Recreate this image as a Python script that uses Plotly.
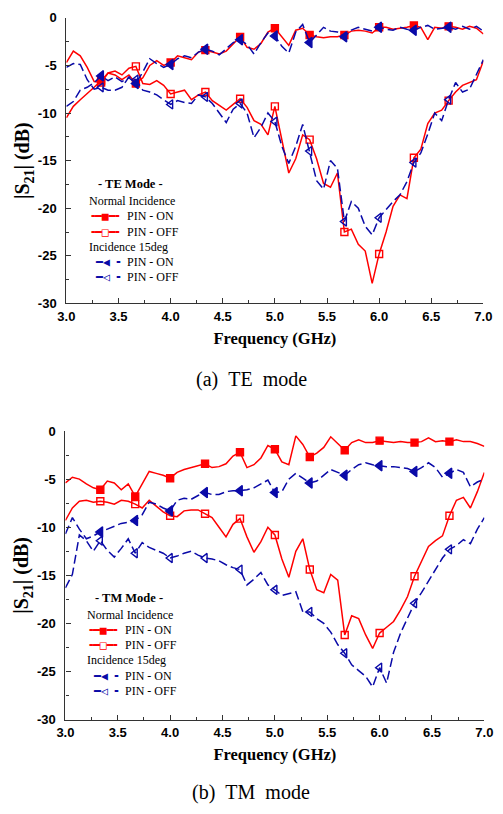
import plotly.graph_objects as go

# Frequency grid (GHz), 1/15 GHz steps
FREQ = [round(3 + i / 15, 4) for i in range(61)]

# ---- (a) TE mode ----
TE_NORMAL_ON = [-10.5, -9.3, -8.6, -8.0, -7.3, -6.6, -5.8, -6.0, -6.5, -6.0,
                -6.9, -6.3, -5.0, -4.5, -5.0, -4.7, -4.0, -4.2, -4.4, -3.6,
                -3.4, -3.6, -3.8, -3.5, -2.8, -2.0, -3.1, -3.3, -2.7, -1.5,
                -1.1, -2.0, -2.9, -1.3, -1.1, -1.8, -2.0, -2.1, -2.0, -2.0,
                -1.8, -1.4, -1.3, -1.4, -1.6, -1.0, -1.0, -1.2, -1.1, -1.0,
                -0.8, -1.0, -2.3, -1.0, -1.1, -0.9, -1.0, -1.2, -0.9, -1.1,
                -1.7]
TE_NORMAL_OFF = [-4.7, -3.5, -4.0, -5.2, -6.7, -6.8, -5.8, -5.6, -6.0, -5.3,
                 -5.1, -6.9, -7.0, -6.6, -7.1, -8.0, -7.8, -7.6, -8.6, -8.1,
                 -7.8, -8.7, -9.2, -9.7, -9.1, -8.5, -9.4, -10.8, -11.2, -12.3,
                 -9.3, -13.0, -16.3, -14.8, -12.3, -12.8, -14.8, -17.4, -17.8, -16.3,
                 -22.5, -22.2, -23.8, -24.5, -27.9, -24.8, -22.5, -19.8, -18.6, -19.0,
                 -14.7, -13.8, -11.1, -10.0, -9.7, -8.7, -7.8, -7.1, -6.8, -6.5,
                 -4.5]
TE_OBLIQUE_ON = [-9.3, -8.8, -7.6, -7.3, -6.8, -6.1, -6.6, -6.2, -6.7, -6.3,
                 -6.9, -5.7, -4.3, -4.8, -5.2, -4.9, -4.3, -4.0, -4.2, -3.6,
                 -3.3, -3.5, -3.9, -3.3, -2.6, -2.3, -2.8, -3.8, -2.6, -1.6,
                 -1.9, -3.0, -3.7, -1.5, -0.7, -2.6, -1.8, -1.0, -1.4, -1.5,
                 -2.0, -1.3, -1.0, -1.2, -1.4, -1.0, -1.2, -1.3, -1.0, -1.2,
                 -1.3, -1.0, -0.8, -1.2, -1.1, -1.0, -1.2, -0.9, -1.2, -0.9,
                 -1.4]
TE_OBLIQUE_OFF = [-5.2, -4.8, -4.9, -6.5, -7.5, -7.3, -7.6, -7.6, -7.3, -6.2,
                  -6.5, -7.6, -7.8, -8.1, -8.6, -9.1, -8.7, -8.9, -9.0, -8.1,
                  -8.3, -9.0, -10.0, -11.0, -9.6, -9.0, -10.0, -12.6, -11.5, -10.0,
                  -10.9, -13.5, -15.3, -13.5, -11.2, -14.0, -17.1, -18.0, -15.0, -15.8,
                  -21.4, -19.3, -20.0, -21.9, -22.8, -21.0, -20.1, -19.3, -18.6, -17.2,
                  -15.2, -14.2, -12.2, -10.0, -10.8, -8.6, -6.8, -7.8, -7.5, -6.0,
                  -4.4]

# ---- (b) TM mode ----
TM_NORMAL_ON = [-5.4, -4.8, -5.0, -5.5, -5.9, -6.1, -5.2, -5.4, -6.1, -5.5,
                -6.8, -5.5, -4.2, -4.4, -4.6, -4.9, -4.3, -4.0, -3.8, -3.6,
                -3.4, -3.8, -3.7, -3.4, -2.6, -2.2, -3.8, -3.5, -2.8, -1.5,
                -1.9, -3.2, -3.5, -0.5, -1.4, -2.7, -2.3, -1.7, -0.6, -1.3,
                -2.0, -1.2, -0.9, -1.2, -1.2, -1.0, -1.1, -1.2, -1.1, -1.2,
                -1.2, -1.1, -0.7, -1.1, -1.0, -1.1, -0.9, -1.1, -1.1, -1.3,
                -1.6]
TM_NORMAL_OFF = [-9.3, -8.0, -7.3, -7.2, -7.4, -7.3, -7.4, -7.6, -7.2, -7.3,
                 -7.6, -8.0, -7.2, -7.8, -8.4, -8.8, -8.9, -8.3, -8.2, -8.2,
                 -8.6, -9.0, -10.0, -11.0, -9.7, -9.1, -11.0, -12.6, -11.5, -10.0,
                 -10.8, -13.3, -15.2, -12.5, -11.2, -14.4, -16.5, -16.8, -14.9, -15.5,
                 -21.2, -19.2, -19.5, -21.2, -22.6, -21.0, -20.4, -19.8, -18.6, -17.2,
                 -15.1, -13.5, -12.0, -11.4, -10.9, -8.8, -7.2, -6.9, -8.0, -6.3,
                 -4.3]
TM_OBLIQUE_ON = [-10.7, -9.0, -10.2, -11.2, -10.9, -10.5, -10.2, -9.9, -9.6, -9.5,
                 -9.3, -8.7, -7.4, -7.6, -8.0, -8.3, -7.2, -7.0, -7.1, -6.7,
                 -6.4, -6.6, -6.6, -6.3, -6.2, -6.2, -6.1, -5.9, -5.5, -5.1,
                 -6.4, -6.3, -5.0, -4.4, -4.9, -5.4, -5.2, -4.6, -4.0, -4.3,
                 -4.6, -4.0, -3.5, -3.3, -3.5, -3.6, -3.7, -3.7, -3.8, -3.9,
                 -4.2, -3.8, -3.3, -3.8, -4.8, -4.4, -4.0, -4.3, -5.8, -5.3,
                 -5.0]
TM_OBLIQUE_OFF = [-16.3, -14.9, -10.8, -11.4, -12.5, -11.4, -12.4, -13.1, -12.2, -11.2,
                  -12.7, -11.6, -12.1, -12.4, -12.7, -13.2, -13.0, -12.7, -12.5, -12.9,
                  -13.2, -13.3, -13.5, -13.9, -14.2, -14.4, -16.0, -15.4, -14.7, -16.0,
                  -16.5, -17.1, -16.9, -16.7, -18.8, -18.8, -19.5, -20.0, -20.9, -22.2,
                  -23.1, -24.3, -24.9, -25.5, -26.6, -24.6, -26.2, -23.0, -21.0, -19.5,
                  -17.9, -16.8, -15.6, -14.3, -13.2, -12.3, -11.9, -11.3, -11.7, -10.2,
                  -9.0]

Y_TICKS = [-30, -25, -20, -15, -10, -5, 0]
Y_TICKTEXT = ["-30", "-25", "-20", "-15", "-10", "-5", "0"]
MARK_EVERY = 5

RED = "#FF0000"
BLUE = "#0A0AA8"
SERIF = "Liberation Serif"
SANS = "Liberation Sans"
MONO = "DejaVu Sans Mono"
DASH = "9px,4px"

fig = go.Figure()


def add_series(xa, ya, y, color, dash, symbol, msize):
    fig.add_trace(go.Scatter(
        x=FREQ, y=y, mode="lines", xaxis=xa, yaxis=ya,
        line=dict(color=color, width=1.5, dash=dash),
        showlegend=False, hoverinfo="skip"))
    idx = list(range(MARK_EVERY, len(FREQ) - 1, MARK_EVERY))
    fig.add_trace(go.Scatter(
        x=[FREQ[i] for i in idx], y=[y[i] for i in idx], mode="markers",
        xaxis=xa, yaxis=ya,
        marker=dict(symbol=symbol, size=msize, color=color,
                    line=dict(color=color, width=1.4)),
        showlegend=False, hoverinfo="skip"))


for xa, ya, data in [
    ("x", "y", (TE_NORMAL_ON, TE_NORMAL_OFF, TE_OBLIQUE_ON, TE_OBLIQUE_OFF)),
    ("x2", "y2", (TM_NORMAL_ON, TM_NORMAL_OFF, TM_OBLIQUE_ON, TM_OBLIQUE_OFF)),
]:
    add_series(xa, ya, data[0], RED, "solid", "square", 7)
    add_series(xa, ya, data[1], RED, "solid", "square-open", 7)
    add_series(xa, ya, data[2], BLUE, DASH, "triangle-left", 9)
    add_series(xa, ya, data[3], BLUE, DASH, "triangle-left-open", 8)

AXCOL = "#333333"
tickfont = dict(family=SANS, size=13, color="black", weight="bold")


def xaxis(domain, anchor):
    return dict(domain=domain, anchor=anchor, range=[3, 7], tick0=3, dtick=0.5,
                tickformat=".1f", ticks="inside", ticklen=5, tickwidth=1, tickcolor=AXCOL,
                minor=dict(ticks="inside", ticklen=3, dtick=0.25, tick0=3, tickcolor=AXCOL),
                showline=True, linecolor=AXCOL, linewidth=1.2, showgrid=False,
                zeroline=False, tickfont=tickfont, ticklabelstandoff=1,
                title=dict(text="<b>Frequency (GHz)</b>",
                           font=dict(family=SERIF, size=16.5, color="black"), standoff=9))


def yaxis(domain, anchor):
    return dict(domain=domain, anchor=anchor, range=[-30, 0], tickvals=Y_TICKS,
                ticktext=Y_TICKTEXT, ticks="inside", ticklen=5, tickwidth=1, tickcolor=AXCOL,
                minor=dict(ticks="inside", ticklen=3, dtick=2.5, tick0=0, tickcolor=AXCOL),
                showline=True, linecolor=AXCOL, linewidth=1.2, showgrid=False,
                zeroline=False, tickfont=tickfont, ticklabelstandoff=6,
                title=dict(text="<b>|S<sub>21</sub>| (dB)</b>",
                           font=dict(family=SERIF, size=20, color="black"), standoff=2))


W, H = 503, 814


def ann(text, xpx, ypx, size=12, color="black", family=SERIF, xanchor="left"):
    return dict(text=text, x=xpx / W, y=1 - ypx / H, xref="paper", yref="paper",
                xanchor=xanchor, yanchor="middle", showarrow=False,
                font=dict(family=family, size=size, color=color))


def legend_block(title, left, y0):
    # rows: title, group title, 2 items, group title, 2 items
    items = []
    items.append(ann("<b>" + title + "</b>", left + 45, y0, size=12.5, xanchor="center"))
    rows = [y0 + 17.5 + 15.4 * k for k in range(6)]
    items.append(ann("Normal Incidence", left, rows[0]))
    items.append(ann("\u257a\u2501\u25a0\u2501\u2578", left + 19, rows[1], size=11.5,
                     color=RED, family=MONO, xanchor="center"))
    items.append(ann("PIN - ON", left + 39, rows[1]))
    items.append(ann("\u257a\u2501\u25a1\u2501\u2578", left + 19, rows[2], size=11.5,
                     color=RED, family=MONO, xanchor="center"))
    items.append(ann("PIN - OFF", left + 39, rows[2]))
    items.append(ann("Incidence 15deg", left, rows[3]))
    items.append(ann("\u2501\u25c0 \u2578", left + 6, rows[4], size=11.5,
                     color=BLUE, family=MONO))
    items.append(ann("PIN - ON", left + 39, rows[4]))
    items.append(ann("\u2501\u25c1 \u2578", left + 6, rows[5], size=11.5,
                     color=BLUE, family=MONO))
    items.append(ann("PIN - OFF", left + 39, rows[5]))
    return items


annotations = []
annotations += legend_block("- TE Mode -", 81, 180.5)
annotations += legend_block("- TM Mode -", 79, 602)
annotations.append(ann("(a)\u00a0\u00a0TE\u00a0\u00a0mode", 251, 379, size=20, xanchor="center"))
annotations.append(ann("(b)\u00a0\u00a0TM\u00a0\u00a0mode", 251, 800, size=20, xanchor="center"))

fig.update_layout(
    width=W, height=H, margin=dict(l=0, r=0, t=0, b=0),
    paper_bgcolor="white", plot_bgcolor="white", showlegend=False,
    xaxis=xaxis([59.5 / W, 492 / W], "y"),
    yaxis=yaxis([1 - 302 / H, 1 - 11 / H], "x"),
    xaxis2=xaxis([58.5 / W, 493 / W], "y2"),
    yaxis2=yaxis([1 - 726 / H, 1 - 432 / H], "x2"),
    annotations=annotations,
)

fig.write_html("out.html")
